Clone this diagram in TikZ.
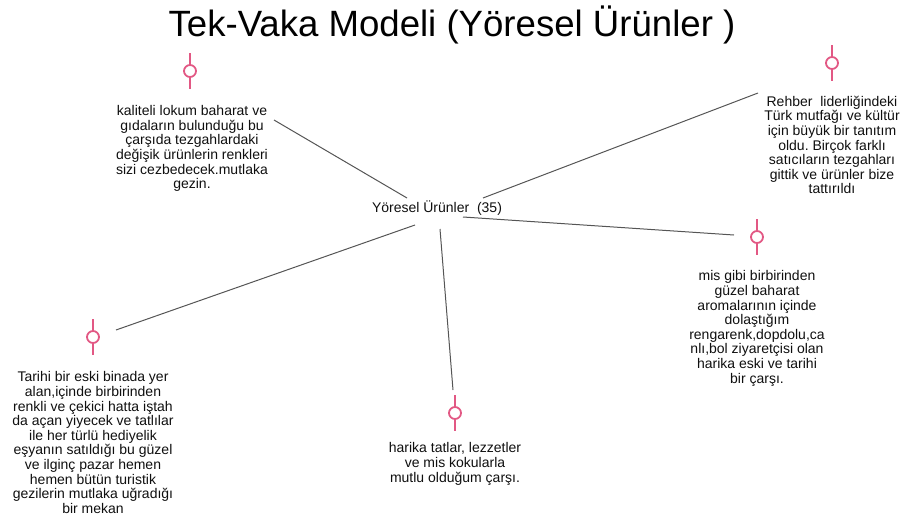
\documentclass[tikz,border=0pt]{standalone}
\usepackage{fontspec}
\setmainfont{Liberation Sans}
\frenchspacing
\definecolor{pinkmark}{RGB}{226,88,132}
\definecolor{linkgray}{RGB}{85,85,85}
\definecolor{inktext}{RGB}{15,15,15}
\tikzset{
  titletext/.style={font=\fontsize{36.6}{40}\selectfont, text=black, inner sep=0pt},
  hubtext/.style={font=\fontsize{14}{15}\selectfont, text=inktext, inner sep=1pt},
  notetext/.style={font=\fontsize{14}{14.6}\selectfont, text=inktext, align=center, inner sep=0pt},
  marker/.style={circle, draw=pinkmark, line width=1.8pt, minimum size=12pt, inner sep=0pt},
  markerstem/.style={draw=pinkmark, line width=1.8pt},
  link/.style={draw=linkgray, line width=1pt},
}
\begin{document}
\begin{tikzpicture}[x=1pt,y=-1pt]
\useasboundingbox (0,0) rectangle (903,522);

% title
\node[titletext] (title) at (452,25) {Tek-Vaka Modeli (Yöresel Ürünler )};

% central topic
\node[hubtext] (hub) at (437,208) {Yöresel Ürünler\ \ (35)};

% markers with short stems above and below
\foreach \n/\x/\y in {m1/190/71, m2/832/63, m3/757/237, m4/93/337, m5/455/413} {
  \node[marker] (\n) at (\x,\y) {};
  \draw[markerstem] (\n.north) -- ++(0,-11);
  \draw[markerstem] (\n.south) -- ++(0,11);
}

% notes
\node[notetext] (n1) at (192,148.5) {kaliteli lokum baharat ve\\gıdaların bulunduğu bu\\çarşıda tezgahlardaki\\değişik ürünlerin renkleri\\sizi cezbedecek.mutlaka\\gezin.};
\node[notetext] (n2) at (832,145) {Rehber\ \ liderliğindeki\\Türk mutfağı ve kültür\\için büyük bir tanıtım\\oldu. Birçok farklı\\satıcıların tezgahları\\gittik ve ürünler bize\\tattırıldı};
\node[notetext] (n3) at (757,328.5) {mis gibi birbirinden\\güzel baharat\\aromalarının içinde\\dolaştığım\\rengarenk,dopdolu,ca\\nlı,bol ziyaretçisi olan\\harika eski ve tarihi\\bir çarşı.};
\node[notetext] (n4) at (93,442.5) {Tarihi bir eski binada yer\\alan,içinde birbirinden\\renkli ve çekici hatta iştah\\da açan yiyecek ve tatlılar\\ile her türlü hediyelik\\eşyanın satıldığı bu güzel\\ve ilginç pazar hemen\\hemen bütün turistik\\gezilerin mutlaka uğradığı\\bir mekan};
\node[notetext] (n5) at (455,464) {harika tatlar, lezzetler\\ve mis kokularla\\mutlu olduğum çarşı.};

% connector end points
\coordinate (h1) at (407,198);  \coordinate (e1) at (274,120);
\coordinate (h2) at (483,198);  \coordinate (e2) at (758,93);
\coordinate (h3) at (463,217);  \coordinate (e3) at (734,235);
\coordinate (h4) at (415,225);  \coordinate (e4) at (116,330);
\coordinate (h5) at (440,229);  \coordinate (e5) at (453,390);

\foreach \i in {1,...,5} { \draw[link] (h\i) -- (e\i); }
\end{tikzpicture}
\end{document}
